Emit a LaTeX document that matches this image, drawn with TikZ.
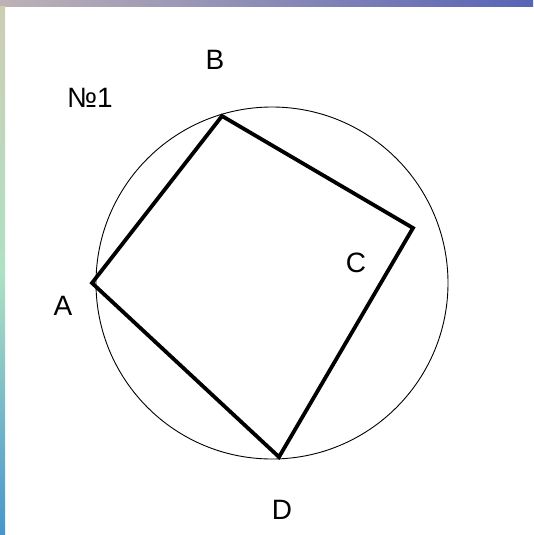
\documentclass[tikz,border=0pt]{standalone}
\usepackage{fontspec}
\setmainfont{Liberation Sans}
\begin{document}
\begin{tikzpicture}[x=1pt, y=-1pt,
    sommet/.style={font=\fontsize{28}{33}\selectfont, inner sep=0pt},
    cote/.style={line width=3.8pt, line join=miter},
    cercle/.style={line width=0.9pt}
]
    \useasboundingbox (0,0) rectangle (533,535);
    \fill[white] (0,0) rectangle (533,535);
    % bandes du fond
    \shade[left color={rgb,255:red,190;green,178;blue,182}, right color={rgb,255:red,88;green,100;blue,182}]
        (0,0) rectangle (533,7);
    \shade[top color={rgb,255:red,205;green,205;blue,180}, bottom color={rgb,255:red,70;green,150;blue,205},
        middle color={rgb,255:red,175;green,225;blue,195}] (0,7) rectangle (5,535);

    \coordinate (A) at (92,283);
    \coordinate (B) at (222,116);
    \coordinate (C) at (413,228);
    \coordinate (D) at (279,457);
    \coordinate (O) at (272,283);

    \draw[cercle] (O) circle[radius=176];
    \draw[cote] (A) -- (B) -- (C) -- (D) -- cycle;

    \node[sommet] (lA) at (63,306) {A};
    \node[sommet] (lB) at (215,60) {B};
    \node[sommet] (lC) at (356,263) {C};
    \node[sommet] (lD) at (282,510) {D};
    \node[sommet] (titre) at (90,98) {№1};
\end{tikzpicture}
\end{document}
